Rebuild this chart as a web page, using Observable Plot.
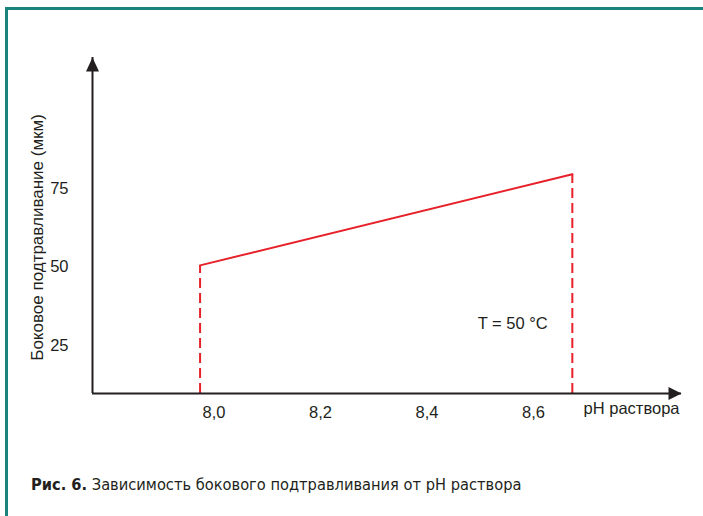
<!DOCTYPE html>
<html>
<head>
<meta charset="utf-8">
<script src="https://cdn.jsdelivr.net/npm/d3@7"></script>
<script src="https://cdn.jsdelivr.net/npm/@observablehq/plot@0.6"></script>
<style>
  html, body { margin: 0; padding: 0; background: #fff; }
  #wrap { position: relative; width: 703px; height: 516px; overflow: hidden; background: #fff; }
  #frame { position: absolute; left: 5px; top: 7px; width: 698px; height: 509px;
           border-top: 3px solid #1a827d; border-left: 3px solid #1a827d; box-sizing: border-box; z-index: 2; }
  #chart { position: absolute; left: 0; top: 0; z-index: 1; }
  #caption { position: absolute; left: 31px; top: 475px; z-index: 3; white-space: nowrap;
             font-family: "DejaVu Sans Condensed", "DejaVu Sans", sans-serif; font-stretch: condensed;
             font-size: 16.3px; line-height: 20px; color: #231f20; }
  #caption b { font-weight: bold; }
</style>
</head>
<body>
<div id="wrap">
  <div id="chart"></div>
  <div id="frame"></div>
  <div id="caption"><b>Рис. 6.</b> Зависимость бокового подтравливания от pH раствора</div>
</div>
<script>
// Data
const pH = [7.974, 8.673];
const etch = [50.5, 79.5];
const xTicks = [8.0, 8.2, 8.4, 8.6];
const yTicks = [25, 50, 75];
const yLabel = "Боковое подтравливание (мкм)";
const xLabel = "pH раствора";
const tempLabel = "T = 50 °C";
const tempPos = [8.561, 32];
const yLabelPos = [7.668, 59.4];

const xDomain = [7.772, 8.878];
const yDomain = [9.7, 116.7];

const data = pH.map((p, i) => ({pH: p, etch: etch[i]}));

const ink = "#231f20";
const red = "#e62129";

const arrowUp = {draw(ctx) { ctx.moveTo(0, 0); ctx.lineTo(-6.5, 14); ctx.lineTo(6.5, 14); ctx.closePath(); }};
const arrowRight = {draw(ctx) { ctx.moveTo(0, 0); ctx.lineTo(-13, -6.5); ctx.lineTo(-13, 6.5); ctx.closePath(); }};

const chart = Plot.plot({
  width: 703,
  height: 440,
  marginLeft: 92,
  marginRight: 22,
  marginTop: 57,
  marginBottom: 47,
  style: {background: "transparent", fontFamily: "'Liberation Sans', Arial, sans-serif", fontSize: "16.5px", color: ink, overflow: "visible"},
  x: {domain: xDomain},
  y: {domain: yDomain},
  marks: [
    Plot.axisX(xTicks, {tickSize: 0, tickPadding: 13, label: null, fontSize: 16.5,
      tickFormat: d => d.toFixed(1).replace(".", ",")}),
    Plot.axisY(yTicks, {tickSize: 0, tickPadding: 24, label: null, fontSize: 16.5}),
    Plot.ruleX(data, {x: "pH", y1: () => yDomain[0], y2: "etch", stroke: red, strokeWidth: 2, strokeDasharray: "10,5"}),
    Plot.line(data, {x: "pH", y: "etch", stroke: red, strokeWidth: 2}),
    Plot.ruleY([yDomain[0]], {stroke: ink, strokeWidth: 2}),
    Plot.ruleX([xDomain[0]], {stroke: ink, strokeWidth: 2}),
    Plot.dot([0], {frameAnchor: "top-left", symbol: arrowUp, fill: ink, stroke: null, r: 5}),
    Plot.dot([0], {frameAnchor: "bottom-right", symbol: arrowRight, fill: ink, stroke: null, r: 5}),
    Plot.text([yLabel], {x: () => yLabelPos[0], y: () => yLabelPos[1], rotate: -90, fontSize: 17, fill: ink}),
    Plot.text([xLabel], {frameAnchor: "bottom-right", textAnchor: "end", dx: -2, dy: 20, fontSize: 16.5, fill: ink}),
    Plot.text([tempLabel], {x: () => tempPos[0], y: () => tempPos[1], fontSize: 16.5, fill: ink})
  ]
});
document.getElementById("chart").appendChild(chart);
</script>
</body>
</html>
